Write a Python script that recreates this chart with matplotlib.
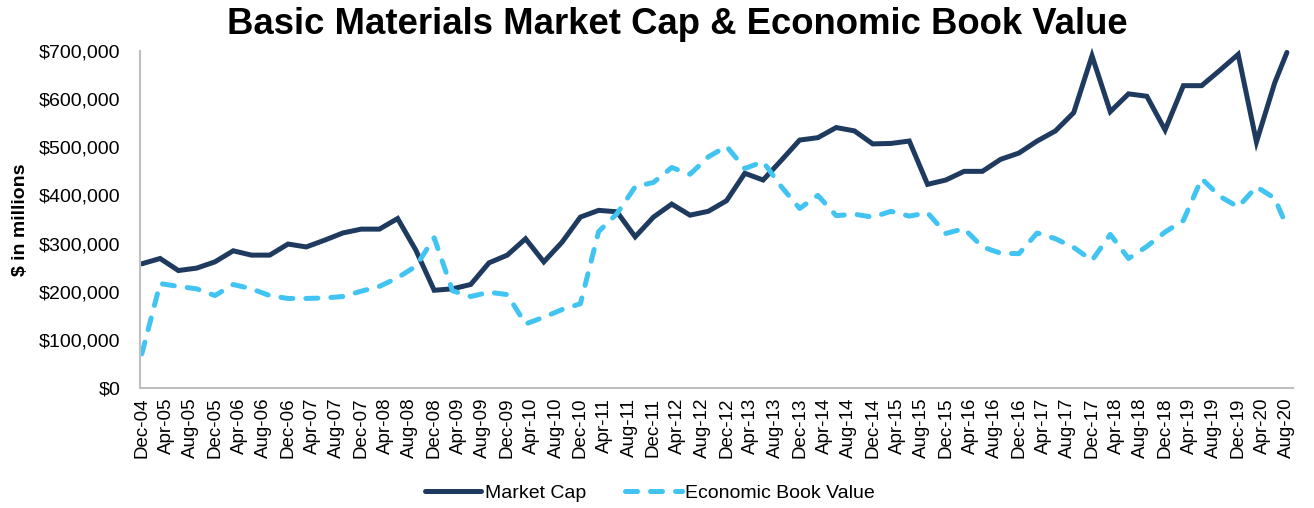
import matplotlib
matplotlib.use("Agg")
import matplotlib.pyplot as plt
from matplotlib.ticker import FuncFormatter

plt.rcParams['font.family'] = ['Liberation Sans', 'DejaVu Sans']

# Months since Dec-04 for each quarterly observation (Dec-04 ... Jun-20, then Aug-20)
months = [0, 3, 6, 9, 12, 15, 18, 21, 24, 27, 30, 33, 36, 39, 42, 45, 48, 51, 54, 57,
          60, 63, 66, 69, 72, 75, 78, 81, 84, 87, 90, 93, 96, 99, 102, 105, 108, 111,
          114, 117, 120, 123, 126, 129, 132, 135, 138, 141, 144, 147, 150, 153, 156,
          159, 162, 165, 168, 171, 174, 177, 180, 183, 186, 188]

market_cap = [258000, 269000, 244000, 249000, 262000, 285000, 276000, 276000, 299000, 293000,
              307000, 322000, 330000, 330000, 352000, 286000, 203000, 206000, 215000, 260000,
              276000, 310000, 262000, 303000, 355000, 369000, 366000, 314000, 355000, 382000,
              359000, 367000, 389000, 446000, 432000, 473000, 515000, 520000, 541000, 534000,
              507000, 508000, 513000, 423000, 432000, 450000, 450000, 475000, 488000, 513000,
              534000, 572000, 690000, 574000, 611000, 606000, 536000, 628000, 628000, 660000,
              693000, 511000, 634000, 697000]

economic_book_value = [71000, 217000, 211000, 206000, 192000, 215000, 206000, 192000, 186000, 186000,
                       187000, 190000, 201000, 211000, 229000, 253000, 312000, 202000, 190000, 199000,
                       194000, 133000, 147000, 163000, 175000, 325000, 362000, 418000, 427000, 458000,
                       444000, 480000, 502000, 456000, 470000, 418000, 373000, 400000, 358000, 361000,
                       355000, 367000, 357000, 364000, 321000, 331000, 293000, 280000, 279000, 322000,
                       310000, 292000, 265000, 319000, 269000, 294000, 324000, 348000, 435000, 398000,
                       376000, 418000, 394000, 335000]

tick_months = list(range(0, 189, 4))
tick_labels = ["Dec-04", "Apr-05", "Aug-05", "Dec-05", "Apr-06", "Aug-06", "Dec-06", "Apr-07",
               "Aug-07", "Dec-07", "Apr-08", "Aug-08", "Dec-08", "Apr-09", "Aug-09", "Dec-09",
               "Apr-10", "Aug-10", "Dec-10", "Apr-11", "Aug-11", "Dec-11", "Apr-12", "Aug-12",
               "Dec-12", "Apr-13", "Aug-13", "Dec-13", "Apr-14", "Aug-14", "Dec-14", "Apr-15",
               "Aug-15", "Dec-15", "Apr-16", "Aug-16", "Dec-16", "Apr-17", "Aug-17", "Dec-17",
               "Apr-18", "Aug-18", "Dec-18", "Apr-19", "Aug-19", "Dec-19", "Apr-20", "Aug-20"]
y_ticks = [0, 100000, 200000, 300000, 400000, 500000, 600000, 700000]

navy = "#1F3A5F"
sky = "#41C4F2"

fig = plt.figure(figsize=(13.14, 5.08), dpi=100)
ax = fig.add_axes([140/1314, 1-388/508, (1293-140)/1314, (388-51)/508])

ax.plot(months, market_cap, color=navy, lw=3.6, solid_joinstyle='miter',
        solid_capstyle='round', label="Market Cap", clip_on=False)
ebv_line, = ax.plot(months, economic_book_value, color=sky, lw=3.6, dash_capstyle='round',
                    dash_joinstyle='round', label="Economic Book Value")
ebv_line.set_dashes((2.4, 2.6))

ax.set_xlim(-0.3, 189)
ax.set_ylim(0, 700000)
ax.set_yticks(y_ticks)
ax.yaxis.set_major_formatter(FuncFormatter(lambda v, p: "${:,.0f}".format(v)))
ax.set_xticks(tick_months)
ax.set_xticklabels(tick_labels, rotation=90)
ax.tick_params(axis='y', length=0, pad=14, labelsize=14)
ax.tick_params(axis='x', length=0, pad=7, labelsize=13.5)

for s in ["top", "right"]:
    ax.spines[s].set_visible(False)
for s in ["left", "bottom"]:
    ax.spines[s].set_color("#BFBFBF")
    ax.spines[s].set_linewidth(1.5)

ax.set_ylabel("$ in millions", fontsize=14, fontweight='bold')
ax.yaxis.set_label_coords(-0.096, 0.5)

fig.text(677/1314, 1-24/508, "Basic Materials Market Cap & Economic Book Value",
         ha='center', va='center', fontsize=26.3, fontweight='bold')

leg = fig.legend(loc='center', bbox_to_anchor=(650/1314, 1-493/508), ncol=2, frameon=False,
                 fontsize=14, handlelength=2.9, handletextpad=0.2, columnspacing=2.0)

fig.savefig("out.png", dpi=100)
